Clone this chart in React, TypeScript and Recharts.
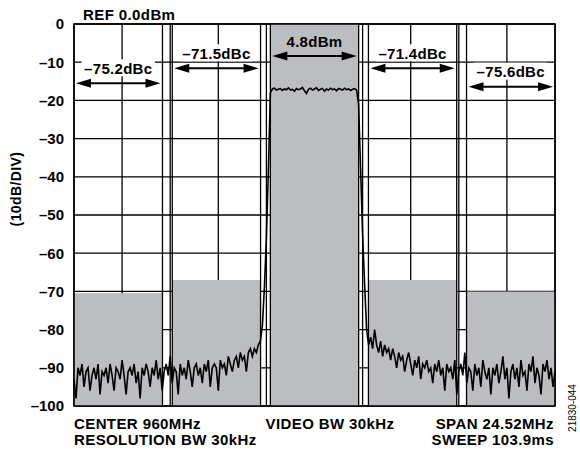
import React from "react";
import {
  ComposedChart,
  Line,
  XAxis,
  YAxis,
  CartesianGrid,
  ReferenceArea,
  ReferenceLine,
} from "recharts";

// frequency offset from the 960 MHz center, span 24.52 MHz
const SPAN_START = -12.26;
const SPAN_STOP = 12.26;
const xGrid = [-12.26, -9.808, -7.356, -4.904, -2.452, 0, 2.452, 4.904, 7.356, 9.808, 12.26];
const yTicks = [0, -10, -20, -30, -40, -50, -60, -70, -80, -90, -100];

// channel bands (alt, adj, main, adj, alt)
const bandStart = [-12.26, -7.25, -2.25, 2.75, 7.75];
const bandStop = [-7.75, -2.75, 2.25, 7.25, 12.26];
const bandTop = [-70.5, -67, 0, -67, -70];
const bandLabel = ["–75.2dBc", "–71.5dBc", "4.8dBm", "–71.4dBc", "–75.6dBc"];
const arrowLevel = [-15.5, -11.6, -8.4, -11.6, -16.4];

// trace (dBm)
const leftFloor = [
  -93, -98, -90, -92, -89, -95, -91, -90, -96, -92,
  -90, -93, -89, -97, -91, -92, -90, -94, -89, -92,
  -96, -90, -91, -93, -88, -92, -97, -91, -90, -92,
  -89, -94, -91, -98, -90, -92, -89, -91, -95, -90,
  -92, -88, -93, -90, -96, -91, -89, -92, -87, -94,
  -90, -91, -97, -89, -92, -90, -93, -88, -91, -95,
  -90, -89, -92, -90, -94, -89, -91, -88, -95, -90,
  -89, -90, -96, -88, -90, -89, -92, -87, -89, -91,
  -88, -87, -90, -86, -88, -87, -91, -86, -85, -87,
  -85, -86, -84, -83,
];
const leftSkirt = [-79, -69, -56, -38, -18];
const mainChannel = [
  -17.0, -16.8, -17.3, -17.1, -16.9, -17.4, -17.0, -17.2, -16.7, -17.3,
  -17.1, -17.6, -16.9, -17.2, -17.0, -16.6, -17.5, -18.2, -17.1, -16.8,
  -17.3, -17.0, -16.7, -17.4, -17.1, -16.9, -17.6, -17.0, -17.3, -16.8,
  -17.2, -17.0, -17.5, -16.9, -17.1, -17.3, -16.8, -17.2, -17.0, -17.4,
  -17.1, -16.9, -17.3,
];
const rightSkirt = [-21, -38, -55, -68, -80, -84];
const rightFloor = [
  -82, -85, -80, -84, -86, -83, -87, -84, -86, -85,
  -88, -85, -87, -90, -86, -88, -87, -91, -88, -86,
  -89, -92, -88, -90, -87, -93, -89, -90, -88, -91,
  -90, -94, -89, -91, -88, -92, -90, -96, -89, -91,
  -90, -93, -88, -97, -91, -89, -92, -86, -94, -90,
  -91, -96, -89, -92, -90, -95, -88, -91, -93, -90,
  -97, -90, -92, -89, -94, -91, -87, -93, -90, -98,
  -91, -89, -93, -90, -95, -88, -92, -91, -96, -89,
  -91, -87, -94, -90, -92, -97, -89, -91, -88, -93,
  -90, -95, -91,
];

const levels = [...leftFloor, ...leftSkirt, ...mainChannel, ...rightSkirt, ...rightFloor];
const step = (SPAN_STOP - SPAN_START) / (levels.length - 1);
const trace = levels.map((v, i) => ({ f: SPAN_START + i * step, dBm: v }));

const FONT = "'Liberation Sans', Arial, Helvetica, sans-serif";

const arrowShape = (text: string, clearBg: boolean) => (props: any) => {
  const { x1, y1, x2 } = props;
  const head = 15;
  const half = 4.5;
  const cx = (x1 + x2) / 2;
  const w = text.length * 8.9 + 2;
  return (
    <g>
      <line x1={x1 + head - 2} y1={y1} x2={x2 - head + 2} y2={y1} stroke="#000" strokeWidth={2} />
      <polygon points={`${x1},${y1} ${x1 + head},${y1 - half} ${x1 + head},${y1 + half}`} fill="#000" />
      <polygon points={`${x2},${y1} ${x2 - head},${y1 - half} ${x2 - head},${y1 + half}`} fill="#000" />
      {clearBg && <rect x={cx - w / 2} y={y1 - 24} width={w} height={17} fill="#fff" />}
      <text
        x={cx}
        y={y1 - 9.5}
        textAnchor="middle"
        fontFamily={FONT}
        fontWeight="bold"
        fontSize={15}
        letterSpacing={0.3}
        fill="#000"
      >
        {text}
      </text>
    </g>
  );
};

const fmtTick = (v: number) => (v < 0 ? `–${Math.abs(v)}` : String(v));

const txt = { fontFamily: FONT, fontWeight: "bold" as const, fontSize: 15, letterSpacing: 0.4, fill: "#000" };

export default function App() {
  const edges = [bandStop[0], bandStart[1], bandStop[1], bandStart[2], bandStop[2], bandStart[3], bandStop[3], bandStart[4]];
  return (
    <div style={{ position: "absolute", left: 0, top: 0, width: 580, height: 450, background: "#fff" }}>
      <ComposedChart
        width={580}
        height={450}
        data={trace}
        margin={{ top: 24, right: 25, bottom: 44, left: 0 }}
      >
        <CartesianGrid stroke="#000" strokeWidth={1.3} />
        <XAxis
          dataKey="f"
          type="number"
          domain={[SPAN_START, SPAN_STOP]}
          ticks={xGrid}
          interval={0}
          hide
        />
        <YAxis
          type="number"
          domain={[-100, 0]}
          ticks={yTicks}
          interval={0}
          width={74}
          tickLine={false}
          axisLine={false}
          tickSize={6}
          tickMargin={4}
          tickFormatter={fmtTick}
          tick={{ fontFamily: FONT, fontWeight: "bold", fontSize: 15, fill: "#000" }}
        />
        {bandStart.map((s, i) => (
          <ReferenceArea
            key={`band-${i}`}
            x1={s}
            x2={bandStop[i]}
            y1={-100}
            y2={bandTop[i]}
            fill="#bcbdc0"
            fillOpacity={1}
            stroke="none"
          />
        ))}
        {edges.map((x, i) => (
          <ReferenceLine key={`edge-${i}`} x={x} stroke="#000" strokeWidth={1.3} />
        ))}
        <ReferenceArea
          x1={SPAN_START}
          x2={SPAN_STOP}
          y1={-100}
          y2={0}
          fill="none"
          stroke="#000"
          strokeWidth={1.6}
        />
        <Line
          dataKey="dBm"
          type="linear"
          dot={false}
          stroke="#000"
          strokeWidth={1.6}
          isAnimationActive={false}
        />
        {bandStart.map((s, i) => (
          <ReferenceLine
            key={`arrow-${i}`}
            segment={[
              { x: s + 0.1, y: arrowLevel[i] },
              { x: bandStop[i] - 0.1, y: arrowLevel[i] },
            ]}
            shape={arrowShape(bandLabel[i], bandTop[i] !== 0)}
          />
        ))}
      </ComposedChart>
      <svg
        width={580}
        height={450}
        style={{ position: "absolute", left: 0, top: 0, pointerEvents: "none" }}
      >
        <text x={83} y={20} {...txt}>REF 0.0dBm</text>
        <text x={21} y={189} transform="rotate(-90 21 189)" textAnchor="middle" {...txt} fontSize={14}>
          (10dB/DIV)
        </text>
        <text x={74} y={429} {...txt}>CENTER 960MHz</text>
        <text x={74} y={445} {...txt}>RESOLUTION BW 30kHz</text>
        <text x={330} y={429} textAnchor="middle" {...txt}>VIDEO BW 30kHz</text>
        <text x={554} y={429} textAnchor="end" {...txt}>SPAN 24.52MHz</text>
        <text x={554} y={445} textAnchor="end" {...txt}>SWEEP 103.9ms</text>
        <text
          x={576}
          y={408}
          transform="rotate(-90 576 408)"
          textAnchor="middle"
          fontFamily={FONT}
          fontSize={10}
          fill="#000"
        >
          21830-044
        </text>
      </svg>
    </div>
  );
}
